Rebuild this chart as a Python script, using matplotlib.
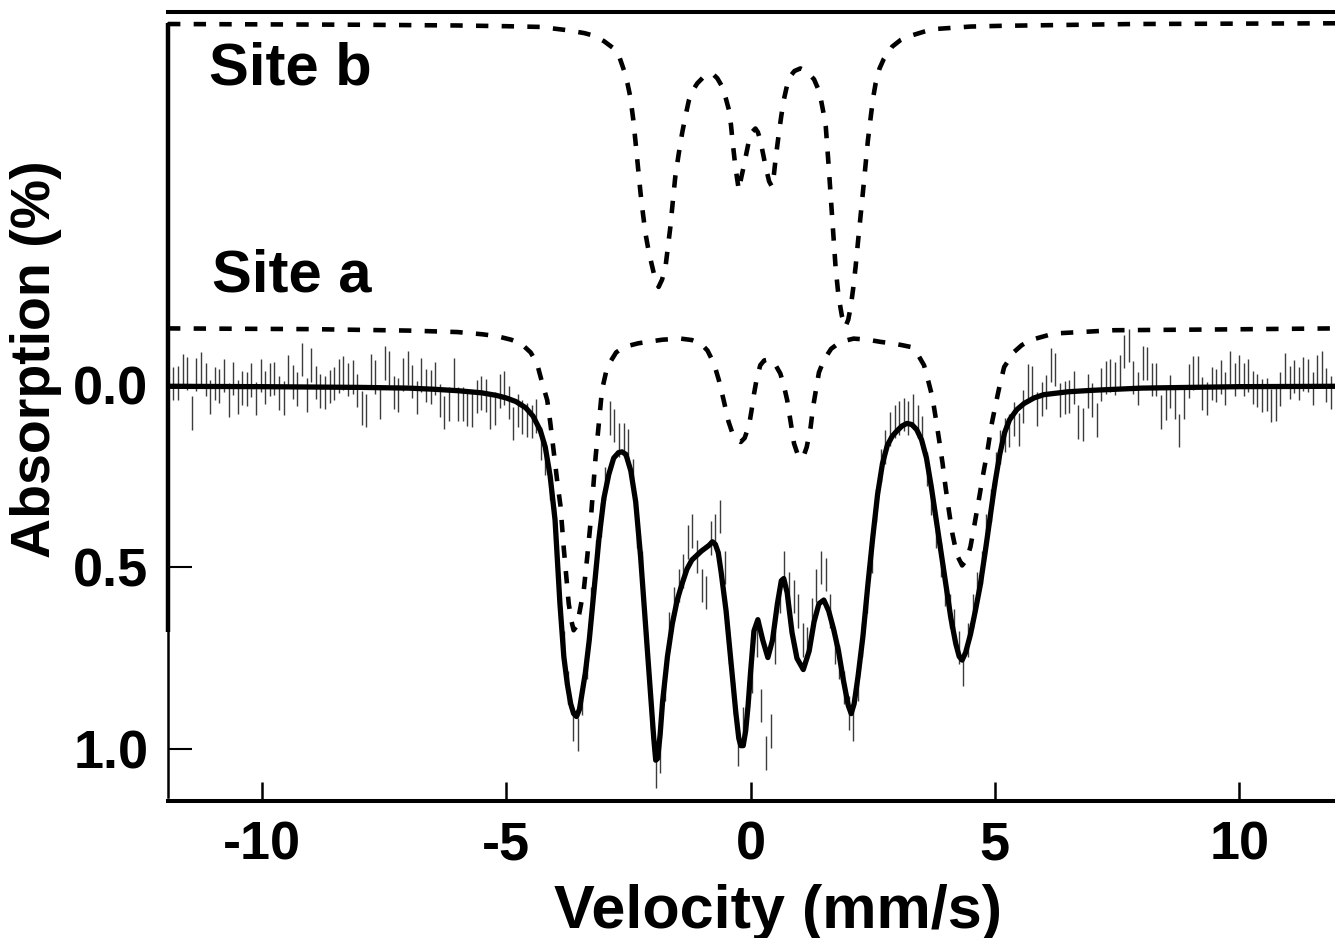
import numpy as np
import matplotlib
matplotlib.use("Agg")
import matplotlib.pyplot as plt
import matplotlib.transforms as mtransforms

plt.rcParams['font.family'] = ['Liberation Sans', 'DejaVu Sans']
plt.rcParams['font.weight'] = 'bold'
plt.rcParams['axes.unicode_minus'] = False

# ---------------- data ----------------
# measured spectrum (channel centres in mm/s and absorption in %)
vel_start, vel_end, n_channels = -11.81, 11.972, 254
absorption = [
    # left baseline
    -0.005, -0.006, -0.039, -0.032, 0.077, -0.030, -0.046, -0.016, 0.032, -0.005,
    0.002, -0.027, 0.041, -0.019, 0.032, 0.008, 0.011, -0.014, 0.036, -0.026,
    0.007, -0.015, -0.019, 0.022, 0.035, -0.038, -0.009, 0.010, -0.071, 0.027,
    -0.056, -0.007, 0.016, 0.020, 0.003, -0.005, -0.025, -0.034, -0.016, -0.022,
    0.015, 0.062, 0.070, -0.041, -0.022, 0.046, -0.061, -0.047, 0.020, 0.027,
    -0.030, -0.047, -0.010, 0.034, -0.028, 0.001, 0.005, -0.018, 0.042, 0.075,
    0.052, -0.030, 0.051, 0.052, 0.066, 0.068, 0.031, 0.022, 0.028, 0.075,
    0.064, 0.016, 0.008, 0.047, 0.105, 0.069, 0.087,
    # absorption lines
    0.095, 0.10, 0.085, 0.16, 0.20, 0.27, 0.38, 0.56, 0.72, 0.83,
    0.93, 0.96, 0.86, 0.76, 0.60, 0.47, 0.37, 0.27, 0.09, 0.11,
    0.15, 0.15, 0.165, 0.25, 0.40, 0.50, 0.72, 0.90, 1.06, 1.02,
    0.82, 0.67, 0.60, 0.55, 0.51, 0.43, 0.40, 0.47, 0.55, 0.57,
    0.42, 0.40, 0.36, 0.50, 0.72, 0.86, 1.00, 0.93, 0.86, 0.80,
    0.70, 0.88, 1.01, 0.95, 0.72, 0.58, 0.50, 0.56, 0.58, 0.62,
    0.70, 0.71, 0.63, 0.55, 0.50, 0.52, 0.62, 0.72, 0.76, 0.83,
    0.90, 0.93, 0.82, 0.70, 0.58, 0.47, 0.33, 0.22, 0.17, 0.12,
    0.10, 0.09, 0.08, 0.09, 0.07, 0.10, 0.13, 0.23, 0.31, 0.40,
    0.48, 0.56, 0.62, 0.66, 0.72, 0.78, 0.70, 0.62, 0.56, 0.50,
    0.40, 0.33, 0.23, 0.17,
    # right baseline
    0.137, 0.125, 0.093, 0.121, 0.059, -0.011, -0.007, 0.066, 0.038, 0.018,
    -0.056, -0.043, 0.041, 0.034, 0.031, 0.006, 0.101, 0.108, 0.016, 0.041,
    0.096, -0.002, -0.021, -0.027, -0.018, -0.038, -0.092, -0.109, -0.021, 0.009,
    -0.061, -0.059, -0.016, -0.016, 0.073, 0.050, 0.017, 0.048, 0.124, 0.047,
    -0.012, -0.033, -0.035, 0.023, 0.037, -0.005, 0.001, -0.023, 0.009, -0.049,
    -0.015, -0.038, -0.016, -0.027, 0.006, 0.015, 0.028, 0.025, 0.056, 0.052,
    0.010, -0.043, -0.007, -0.024, -0.005, -0.031, -0.027, 0.009, -0.038, -0.048,
    0.000, 0.020, -0.010,
]
abs_error = 0.046

# total fit (solid line)
fit_v = [-11.92, -10, -8, -7, -6.5, -6, -5.5, -5.2, -5.0, -4.8, -4.6, -4.45, -4.3, -4.2, -4.1,
         -4.0, -3.9, -3.82, -3.75, -3.68, -3.62, -3.56, -3.5, -3.44, -3.38, -3.3, -3.2, -3.1,
         -3.0, -2.9, -2.8, -2.7, -2.63, -2.55, -2.45, -2.35, -2.25, -2.15, -2.05, -1.98, -1.94,
         -1.9, -1.85, -1.8, -1.7, -1.6, -1.5, -1.4, -1.3, -1.2, -1.0, -0.85, -0.78, -0.72, -0.66,
         -0.6, -0.5, -0.4, -0.3, -0.24, -0.2, -0.15, -0.1, -0.05, 0.0, 0.07, 0.15, 0.25, 0.355,
         0.45, 0.55, 0.63, 0.68, 0.75, 0.85, 0.95, 1.08, 1.2, 1.3, 1.4, 1.5, 1.6, 1.7, 1.8, 1.9,
         2.0, 2.06, 2.12, 2.2, 2.3, 2.4, 2.5, 2.6, 2.7, 2.8, 2.9, 3.0, 3.1, 3.2, 3.3, 3.4, 3.5,
         3.6, 3.7, 3.8, 3.9, 4.0, 4.1, 4.2, 4.27, 4.33, 4.4, 4.5, 4.6, 4.7, 4.8, 4.9, 5.0, 5.1,
         5.2, 5.3, 5.45, 5.6, 5.8, 6.0, 6.5, 7.0, 8.0, 10.0, 11.96]
fit_y = [0.003, 0.004, 0.006, 0.008, 0.011, 0.015, 0.021, 0.028, 0.035, 0.045, 0.062, 0.085, 0.125, 0.17, 0.25,
         0.37, 0.60, 0.746, 0.82, 0.875, 0.902, 0.91, 0.89, 0.84, 0.79, 0.70, 0.56, 0.42,
         0.31, 0.245, 0.20, 0.185, 0.183, 0.19, 0.235, 0.32, 0.47, 0.655, 0.84, 0.97, 1.03,
         1.025, 0.96, 0.87, 0.745, 0.655, 0.59, 0.545, 0.505, 0.48, 0.455, 0.44, 0.43, 0.437, 0.46,
         0.515, 0.62, 0.76, 0.90, 0.97, 0.99, 0.99, 0.95, 0.88, 0.79, 0.675, 0.644, 0.70, 0.748,
         0.70, 0.60, 0.537, 0.531, 0.57, 0.68, 0.75, 0.781, 0.73, 0.65, 0.60, 0.59, 0.62, 0.67, 0.73, 0.81,
         0.88, 0.902, 0.875, 0.80, 0.69, 0.55, 0.42, 0.30, 0.215, 0.165, 0.14, 0.125, 0.112, 0.105, 0.108, 0.122, 0.15,
         0.20, 0.28, 0.37, 0.46, 0.55, 0.64, 0.71, 0.745, 0.755, 0.735, 0.685, 0.62, 0.55, 0.46, 0.365, 0.27, 0.19,
         0.13, 0.095, 0.067, 0.05, 0.035, 0.026, 0.018, 0.014, 0.008, 0.004, 0.003]

# site a sub-spectrum (dashed, shown offset)
site_a_v = [-11.92, -9, -7, -6, -5.5, -5.2, -4.9, -4.7, -4.5, -4.37, -4.26, -4.16, -4.1, -4.03, -3.95,
            -3.89, -3.82, -3.72, -3.66, -3.62, -3.55, -3.48, -3.41, -3.34, -3.275, -3.17, -3.1, -3.04,
            -2.95, -2.87, -2.75, -2.59, -2.3, -2.11, -1.8, -1.43, -1.2, -1.02, -0.88, -0.75, -0.65,
            -0.55, -0.45, -0.35, -0.27, -0.2, -0.12, -0.03, 0.02, 0.07, 0.13, 0.2, 0.28, 0.38, 0.5,
            0.61, 0.68, 0.75, 0.82, 0.89, 0.97, 1.07, 1.15, 1.23, 1.28, 1.33, 1.4, 1.5, 1.65, 1.84,
            2.11, 2.4, 2.66, 2.9, 3.1, 3.28, 3.42, 3.55, 3.64, 3.72, 3.79, 3.86, 3.93, 3.99, 4.06,
            4.13, 4.22, 4.33, 4.42, 4.5, 4.58, 4.67, 4.76, 4.85, 4.93, 5.02, 5.1, 5.19, 5.39, 5.55,
            5.73, 6.21, 7.44, 9.48, 11.96]
site_a_y = [-0.156, -0.154, -0.150, -0.146, -0.140, -0.135, -0.125, -0.115, -0.090, -0.060, -0.005, 0.041, 0.10, 0.179, 0.27,
            0.33, 0.45, 0.60, 0.65, 0.673, 0.66, 0.61, 0.56, 0.47, 0.38, 0.197, 0.10, 0.014,
            -0.04, -0.064, -0.09, -0.105, -0.115, -0.119, -0.125, -0.128, -0.124, -0.115, -0.095, -0.06, -0.015,
            0.041, 0.10, 0.14, 0.151, 0.156, 0.145, 0.11, 0.07, 0.025, -0.02, -0.055, -0.068, -0.071, -0.058,
            -0.032, 0.0, 0.041, 0.10, 0.16, 0.192, 0.201, 0.17, 0.115, 0.06, 0.02, -0.035, -0.069, -0.10, -0.119,
            -0.128, -0.125, -0.119, -0.115, -0.11, -0.105, -0.085, -0.055, -0.01, 0.032, 0.09, 0.151, 0.215, 0.279, 0.345,
            0.407, 0.465, 0.495, 0.48, 0.444, 0.385, 0.316, 0.245, 0.179, 0.11, 0.05, 0.0, -0.05, -0.091, -0.11,
            -0.124, -0.142, -0.151, -0.153, -0.156]

# site b sub-spectrum (dashed, shown offset)
site_b_v = [-11.92, -8, -6, -5, -4.3, -3.75, -3.4, -3.21, -3.0, -2.8, -2.68, -2.59, -2.52, -2.46, -2.4,
            -2.35, -2.3, -2.25, -2.2, -2.15, -2.08, -2.01, -1.94, -1.88, -1.81, -1.74, -1.69, -1.64,
            -1.59, -1.54, -1.47, -1.4, -1.33, -1.26, -1.18, -1.09, -0.95, -0.78, -0.68, -0.58, -0.51,
            -0.44, -0.4, -0.37, -0.31, -0.24, -0.19, -0.14, -0.08, -0.03, 0.03, 0.1, 0.15, 0.2, 0.25,
            0.31, 0.38, 0.44, 0.48, 0.51, 0.58, 0.63, 0.68, 0.78, 0.9, 1.02, 1.15, 1.3, 1.38, 1.43,
            1.49, 1.54, 1.6, 1.67, 1.74, 1.8, 1.87, 1.94, 2.0, 2.05, 2.1, 2.15, 2.2, 2.25, 2.3, 2.35,
            2.4, 2.46, 2.51, 2.56, 2.64, 2.73, 2.9, 3.07, 3.21, 3.55, 3.75, 4.5, 5.12, 7.84, 11.96]
site_b_y = [-0.992, -0.990, -0.988, -0.986, -0.984, -0.975, -0.967, -0.960, -0.945, -0.925, -0.90, -0.865, -0.83, -0.792, -0.73,
            -0.664, -0.595, -0.527, -0.47, -0.417, -0.365, -0.325, -0.285, -0.27, -0.29, -0.325, -0.38, -0.435,
            -0.505, -0.572, -0.635, -0.692, -0.74, -0.783, -0.81, -0.829, -0.848, -0.856, -0.843, -0.82, -0.79,
            -0.755, -0.715, -0.673, -0.60, -0.536, -0.57, -0.60, -0.64, -0.673, -0.695, -0.705, -0.695, -0.673, -0.64,
            -0.60, -0.56, -0.545, -0.58, -0.618, -0.692, -0.74, -0.783, -0.843, -0.863, -0.870, -0.862, -0.84, -0.815, -0.792,
            -0.75, -0.71, -0.60, -0.462, -0.325, -0.245, -0.19, -0.16, -0.18, -0.215, -0.265, -0.325, -0.395, -0.462, -0.53, -0.60,
            -0.67, -0.737, -0.79, -0.829, -0.87, -0.897, -0.93, -0.948, -0.957, -0.971, -0.978, -0.985, -0.987, -0.992, -0.994]

x_ticks = [-10, -5, 0, 5, 10]
x_tick_labels = ['-10', '-5', '0', '5', '10']
y_ticks = [0.0, 0.5, 1.0]
y_tick_labels = ['0.0', '0.5', '1.0']
site_labels = ['Site b', 'Site a']
site_label_pos = [(-11.08, -0.868), (-11.02, -0.300)]

# ---------------- figure ----------------
W, H = 1335, 938
fig = plt.figure(figsize=(W / 100, H / 100), dpi=100)
ax = fig.add_axes([168 / W, 1 - 801 / H, (W - 168) / W, (801 - 12) / H])

velocity = np.linspace(vel_start, vel_end, n_channels)
ax.errorbar(velocity, absorption, yerr=abs_error, fmt='none', ecolor='#3c3c3c',
            elinewidth=1.0, capsize=0, zorder=1)
ax.plot(site_b_v, site_b_y, color='black', lw=3.3, dashes=(2.7, 2.9),
        dash_capstyle='butt', zorder=2)
ax.plot(site_a_v, site_a_y, color='black', lw=3.3, dashes=(2.7, 2.9),
        dash_capstyle='butt', zorder=2)
ax.plot(fit_v, fit_y, color='black', lw=3.8, solid_joinstyle='round', zorder=3)

ax.set_xlim(-11.92, 11.96)
ax.set_ylim(1.142, -1.025)

for (tx, ty), lab in zip(site_label_pos, site_labels):
    ax.text(tx, ty, lab, fontsize=43, fontweight='bold', ha='left', va='center')

# spines
ax.spines['right'].set_visible(False)
ax.spines['top'].set_linewidth(2.9)
ax.spines['bottom'].set_linewidth(2.9)
ax.spines['left'].set_linewidth(1.8)
ax.spines['left'].set_bounds(-0.995, 1.132)
trans = mtransforms.blended_transform_factory(ax.transAxes, ax.transData)
ax.plot([0, 0], [-0.995, 0.679], transform=trans, color='black', lw=3.2,
        solid_capstyle='butt', clip_on=False, zorder=4)

ax.set_xticks(x_ticks)
ax.set_xticklabels(x_tick_labels)
ax.set_yticks(y_ticks)
ax.set_yticklabels(y_tick_labels)
ax.tick_params(axis='x', direction='in', length=13.7, width=1.8, pad=14,
               labelsize=39, top=False)
ax.tick_params(axis='y', direction='in', length=17.3, width=1.5, pad=14,
               labelsize=39, right=False)
for lab in ax.get_xticklabels() + ax.get_yticklabels():
    lab.set_fontweight('bold')

fig.text(778 / W, 1 - 912 / H, 'Velocity (mm/s)', fontsize=44, fontweight='bold',
         ha='center', va='center')
fig.text(36 / W, 1 - 359 / H, 'Absorption (%)', fontsize=40, fontweight='bold',
         ha='center', va='center', rotation=90)

assert len(absorption) == n_channels
assert len(fit_v) == len(fit_y)
assert len(site_a_v) == len(site_a_y)
assert len(site_b_v) == len(site_b_y)

fig.savefig('out.png', dpi=100)
